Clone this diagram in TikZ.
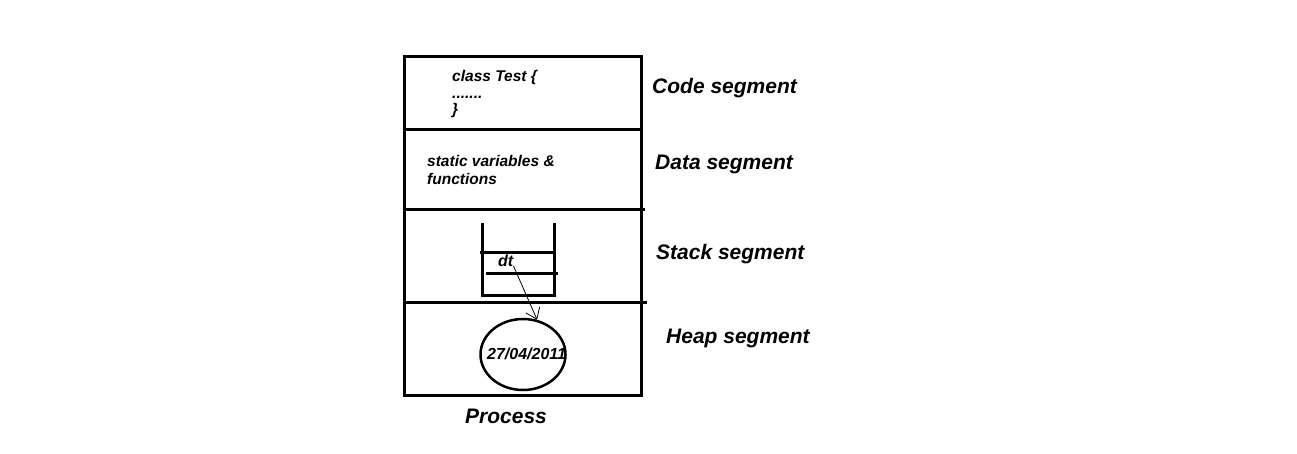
\documentclass[tikz,border=0pt]{standalone}
\usepackage{fontspec}
\setmainfont{Liberation Sans}
\usetikzlibrary{arrows.meta,shapes.geometric}

\begin{document}
\begin{tikzpicture}[x=1pt, y=-1pt,
    wall/.style={line width=3pt, line cap=rect},
    seglbl/.style={anchor=base west, inner sep=0pt, font=\fontsize{21}{24}\selectfont\bfseries\itshape},
    txt/.style={anchor=base west, inner sep=0pt, font=\fontsize{15.5}{17}\selectfont\bfseries\itshape},
    ptr/.style={-{Straight Barb[length=10pt, width=15pt, line width=0.8pt]}, line width=0.8pt},
]
\useasboundingbox (0,0) rectangle (1297,454);

% Process box and segments
\draw[line width=3pt] (404,57) rectangle (641,395);
\draw[wall] (404,130) -- (641,130);
\draw[wall] (404,210) -- (643,210);
\draw[wall] (404,302) -- (645,302);

% Code segment
\node[txt] (cls) at (452,82) {class Test \{};
\node[txt] (dots) at (452,99) {.......};
\node[txt] (brace) at (452,115) {\}};

% Data segment
\node[txt] (stat) at (427,167) {static variables \&};
\node[txt] (func) at (427,185) {functions};

% Stack
\draw[wall, line cap=butt] (482,223) -- (482,295) -- (554,295) -- (554,223);
\draw[wall, line cap=butt] (480,252) -- (556,252);
\draw[wall, line cap=butt] (486,273) -- (558,273);
\node[txt, font=\fontsize{16}{18}\selectfont\bfseries\itshape] (dt) at (498,266) {dt};

% Heap
\node[draw, ellipse, line width=2.5pt, minimum width=85pt, minimum height=71pt, inner sep=0pt] (heap) at (523,354.5) {};
\node[txt, font=\fontsize{16}{18}\selectfont\bfseries\itshape] (date) at (487,359) {27/04/2011};

\draw[ptr] (dt.base east) -- (heap.68);

% Segment labels
\node[seglbl] (code) at (652,94) {Code segment};
\node[seglbl] (data) at (655,170) {Data segment};
\node[seglbl] (stack) at (656,259) {Stack segment};
\node[seglbl] (heaplbl) at (666,343) {Heap segment};
\node[seglbl] (proc) at (465,423) {Process};
\end{tikzpicture}
\end{document}
